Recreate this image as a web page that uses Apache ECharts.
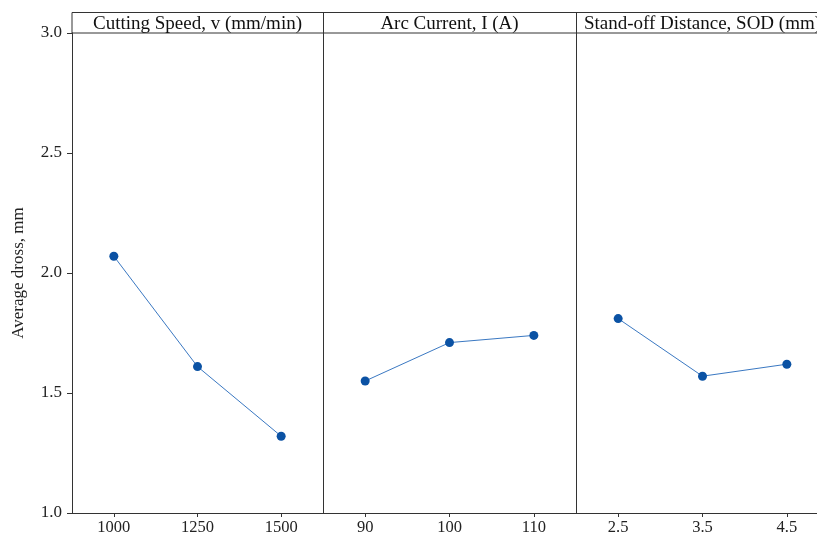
<!DOCTYPE html>
<html>
<head>
<meta charset="utf-8">
<script src="https://cdn.jsdelivr.net/npm/echarts@6/dist/echarts.min.js"></script>
<style>
  html, body { margin: 0; padding: 0; background: #fff; }
  #chart { width: 817px; height: 541px; }
</style>
</head>
<body>
<div id="chart"></div>
<script>
// factor names (panel headers)
const panelTitles = ['Cutting Speed, v (mm/min)', 'Arc Current, I (A)', 'Stand-off Distance, SOD (mm)']

// levels and mean dross per factor
const speedLevels = ['1000', '1250', '1500']
const speedMeans = [2.07, 1.61, 1.32]
const currentLevels = ['90', '100', '110']
const currentMeans = [1.55, 1.71, 1.74]
const sodLevels = ['2.5', '3.5', '4.5']
const sodMeans = [1.81, 1.57, 1.62]

const yMin = 1.0
const yMax = 3.0
const yStep = 0.5

const levels = [speedLevels, currentLevels, sodLevels]
const means = [speedMeans, currentMeans, sodMeans]

// panel layout (px) - last panel runs past the right edge like the original
const plotTop = 33
const plotHeight = 480
const headerTop = 12.5
const panelLeft = [72, 323, 576]
const panelWidth = [251, 253, 253]

const axisColor = '#333'
const serif = '"Liberation Serif", "Times New Roman", serif'

const chart = echarts.init(document.getElementById('chart'))

const grids = panelLeft.map((left, i) => ({
    left: left,
    width: panelWidth[i],
    top: plotTop,
    height: plotHeight,
    outerBoundsMode: 'none',
    containLabel: false
}))

const xAxes = levels.map((cats, i) => ({
    type: 'category',
    gridIndex: i,
    data: cats,
    boundaryGap: true,
    axisLine: { show: true, lineStyle: { color: axisColor, width: 1 } },
    axisTick: { show: true, alignWithLabel: true, length: 4, lineStyle: { color: axisColor } },
    axisLabel: { color: '#222', fontFamily: serif, fontSize: 16.5, margin: 6 },
    splitLine: { show: false }
}))

const yAxes = levels.map((cats, i) => ({
    type: 'value',
    gridIndex: i,
    min: yMin,
    max: yMax,
    interval: yStep,
    name: i === 0 ? 'Average dross, mm' : '',
    nameLocation: 'middle',
    nameGap: 45,
    nameRotate: 90,
    nameTextStyle: { color: '#222', fontFamily: serif, fontSize: 17 },
    axisLine: { show: true, lineStyle: { color: axisColor, width: 1 } },
    axisTick: { show: i === 0, length: 5, lineStyle: { color: axisColor } },
    axisLabel: {
        show: i === 0,
        color: '#222',
        fontFamily: serif,
        fontSize: 17,
        margin: 10,
        formatter: v => v.toFixed(1)
    },
    splitLine: { show: false }
}))

const series = means.map((vals, i) => ({
    type: 'line',
    xAxisIndex: i,
    yAxisIndex: i,
    data: vals,
    symbol: 'circle',
    symbolSize: 9,
    lineStyle: { color: '#3a78c2', width: 1 },
    itemStyle: { color: '#0b52a4' },
    silent: true
}))

// header strip with factor titles
const headerRight = panelLeft[2] + panelWidth[2]
const graphics = [{
    type: 'rect',
    shape: { x: panelLeft[0], y: headerTop, width: headerRight - panelLeft[0], height: plotTop - headerTop },
    style: { fill: 'none', stroke: axisColor, lineWidth: 1 }
}]
panelLeft.slice(1).forEach(x => {
    graphics.push({
        type: 'line',
        shape: { x1: x + 0.5, y1: headerTop, x2: x + 0.5, y2: plotTop },
        style: { stroke: axisColor, lineWidth: 1 }
    })
})
panelTitles.forEach((t, i) => {
    graphics.push({
        type: 'text',
        x: panelLeft[i] + panelWidth[i] / 2,
        y: 34,
        style: {
            text: t,
            fill: '#111',
            font: '19px ' + serif,
            textAlign: 'center',
            textVerticalAlign: 'bottom'
        },
        z: 10
    })
})

chart.setOption({
    backgroundColor: '#fff',
    animation: false,
    grid: grids,
    xAxis: xAxes,
    yAxis: yAxes,
    series: series,
    graphic: graphics
})
</script>
</body>
</html>
